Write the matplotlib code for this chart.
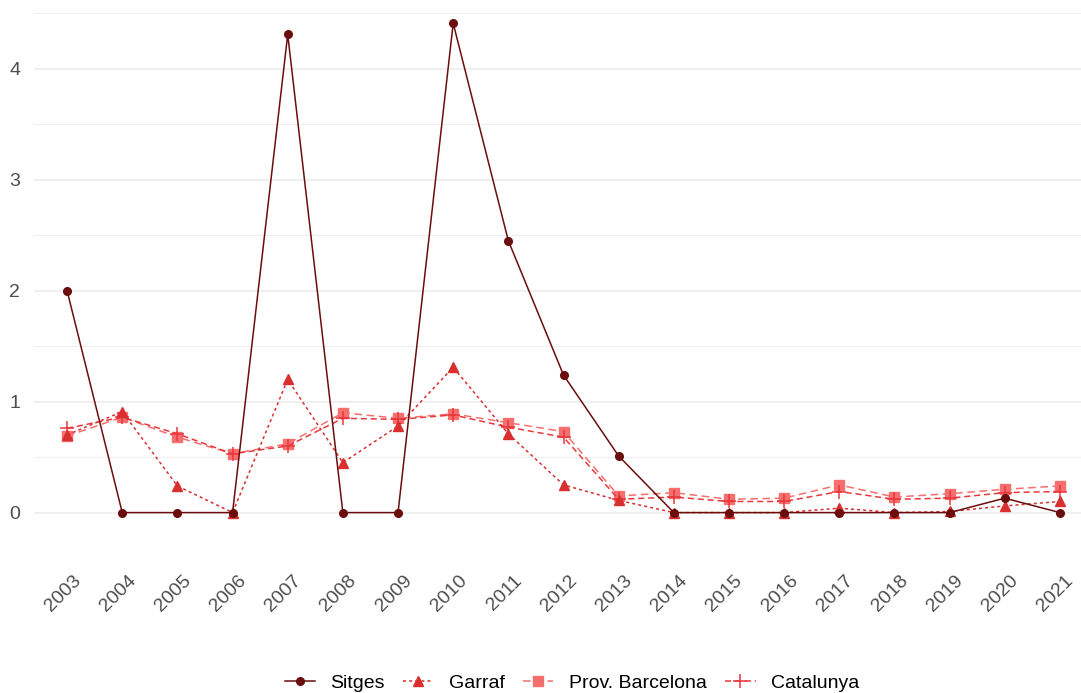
import matplotlib
matplotlib.use('Agg')
import matplotlib.pyplot as plt
import matplotlib.transforms as mtransforms
import numpy as np

plt.rcParams['font.family'] = ['Liberation Sans', 'DejaVu Sans']

years = [str(y) for y in range(2003, 2022)]

sitges = [2.0, 0, 0, 0, 4.31, 0, 0, 4.41, 2.45, 1.24, 0.51, 0, 0, 0, 0, 0, 0, 0.13, 0]
garraf = [0.70, 0.91, 0.24, 0.0, 1.20, 0.45, 0.78, 1.31, 0.71, 0.25, 0.11, 0, 0, 0, 0.04, 0, 0.01, 0.06, 0.10]
barcelona = [0.69, 0.86, 0.68, 0.53, 0.62, 0.90, 0.85, 0.89, 0.81, 0.73, 0.15, 0.18, 0.12, 0.13, 0.25, 0.14, 0.17, 0.21, 0.24]
catalunya = [0.76, 0.86, 0.71, 0.53, 0.60, 0.85, 0.84, 0.88, 0.77, 0.68, 0.12, 0.14, 0.10, 0.10, 0.19, 0.12, 0.13, 0.18, 0.19]

fig = plt.figure(figsize=(10.81, 6.93), dpi=100)
ax = fig.add_axes([34/1081, 156/693, (1093-34)/1081, 537/693])

x = np.arange(len(years))
ax.plot(x, sitges, color='#6b0d0d', lw=1.1, ls='-', marker='o', ms=5.5, label='Sitges', zorder=5)
ax.plot(x, garraf, color='#d92f2f', lw=1.1, ls=(0, (2, 2)), marker='^', ms=7, label='Garraf', zorder=4)
ax.plot(x, barcelona, color='#f76e6e', lw=1.1, ls=(0, (5, 3)), marker='s', ms=6.5, label='Prov. Barcelona', zorder=3)
ax.plot(x, catalunya, color='#e8383d', lw=1.1, ls=(0, (4, 2.5)), marker='+', ms=10, mew=1.1, label='Catalunya', zorder=3)

ax.set_xlim(-0.6, len(years) - 1 + 0.6)
ax.set_ylim(-0.22, 4.62)
ax.set_xticks(x)
ax.set_xticklabels(years, rotation=45, ha='right', va='top', rotation_mode='anchor')
ax.set_yticks([0, 1, 2, 3, 4])
ax.set_yticks([0.5, 1.5, 2.5, 3.5, 4.5], minor=True)
ax.tick_params(axis='both', which='both', length=0)
ax.tick_params(axis='both', labelsize=14, labelcolor='#4d4d4d')
ax.tick_params(axis='y', pad=10)
ax.tick_params(axis='x', pad=25)
# nudge year labels a little to the right, like the reference
shift = mtransforms.ScaledTranslation(5/100, 0, fig.dpi_scale_trans)
for lab in ax.get_xticklabels():
    lab.set_transform(lab.get_transform() + shift)
ax.grid(axis='y', which='major', color='#ebebeb', lw=1.1)
ax.grid(axis='y', which='minor', color='#ebebeb', lw=0.6)
ax.set_axisbelow(True)
for s in ax.spines.values():
    s.set_visible(False)

fig.legend(loc='center', bbox_to_anchor=(572/1081, 1 - 683/693), ncol=4, frameon=False,
           fontsize=14, handlelength=1.55, columnspacing=0.95, handletextpad=0.8)

fig.savefig('out.png', dpi=100)
